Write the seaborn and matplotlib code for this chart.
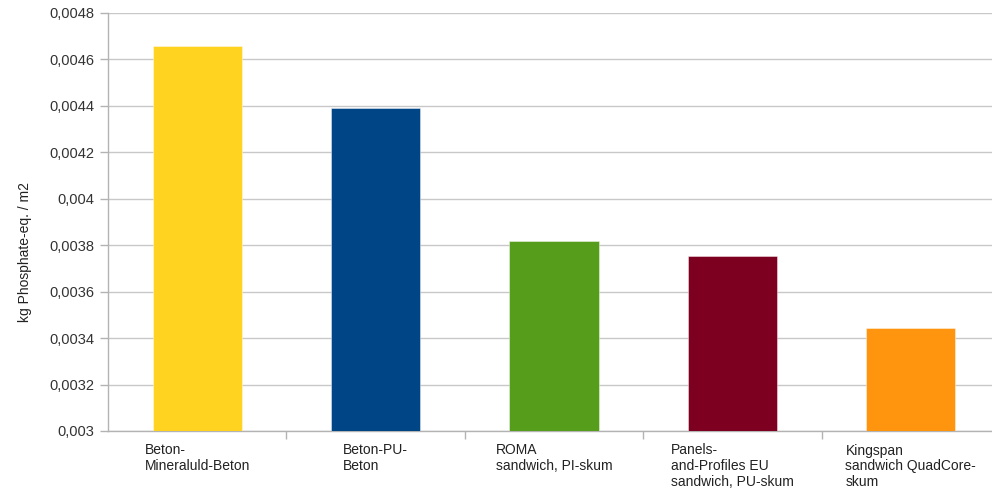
import matplotlib
matplotlib.use("Agg")
import matplotlib.pyplot as plt
import seaborn as sns
import pandas as pd
from matplotlib.ticker import FuncFormatter, FixedLocator

categories = [
    "Beton-\nMineraluld-Beton",
    "Beton-PU-\nBeton",
    "ROMA\nsandwich, PI-skum",
    "Panels-\nand-Profiles EU\nsandwich, PU-skum",
    "Kingspan\nsandwich QuadCore-\nskum",
]
values = [0.00466, 0.00439, 0.00382, 0.003752, 0.003443]
colors = ["#FFD320", "#004586", "#579D1C", "#7E0021", "#FF950E"]
y_ticks = [0.003, 0.0032, 0.0034, 0.0036, 0.0038, 0.004, 0.0042, 0.0044, 0.0046, 0.0048]
y_label = "kg Phosphate-eq. / m2"

sns.set_theme(style="white")
plt.rcParams["font.family"] = ["Liberation Sans", "DejaVu Sans"]

df = pd.DataFrame({"cat": categories, "val": values})

W, H = 992, 488
fig = plt.figure(figsize=(W / 100, H / 100), dpi=100)
ax = fig.add_axes([108 / W, (H - 431) / H, 892 / W, 418 / H])

sns.barplot(data=df, x="cat", y="val", hue="cat", palette=colors, legend=False,
            width=0.5, saturation=1, ax=ax, edgecolor="#ffffff80", linewidth=0.6, zorder=3)

ax.set_ylim(0.003, 0.0048)
ax.set_xlim(-0.5, 4.5)
ax.yaxis.set_major_locator(FixedLocator(y_ticks))
ax.yaxis.set_major_formatter(FuncFormatter(lambda v, p: ("%g" % v).replace(".", ",")))
ax.grid(axis="y", color="#c8c8c8", linewidth=1, zorder=0)
ax.set_axisbelow(True)

for s in ["top", "right"]:
    ax.spines[s].set_visible(False)
for s in ["left", "bottom"]:
    ax.spines[s].set_color("#b3b3b3")
    ax.spines[s].set_linewidth(1)

ax.tick_params(axis="y", which="major", left=True, length=6, width=1, color="#b3b3b3",
               labelsize=10.5, labelcolor="#333333", pad=4)
ax.set_xticks(range(len(categories)))
ax.set_xticklabels(categories, fontsize=10, color="#222222", linespacing=1.15,
                   multialignment="left", ha="center", va="top")
ax.tick_params(axis="x", which="major", length=0, pad=9)
ax.set_xticks([0.5, 1.5, 2.5, 3.5], minor=True)
ax.tick_params(axis="x", which="minor", bottom=True, length=6, width=1, color="#b3b3b3")

ax.set_xlabel("")
ax.set_ylabel(y_label, fontsize=10, color="#222222")
ax.yaxis.set_label_coords(-0.085, 0.428)

fig.savefig("out.png", dpi=100)
